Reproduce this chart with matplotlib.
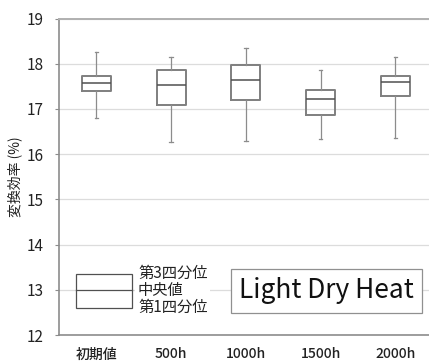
import matplotlib
matplotlib.use("Agg")
import matplotlib.pyplot as plt
from matplotlib.patches import Rectangle

plt.rcParams['font.family'] = ['Noto Sans CJK JP', 'DejaVu Sans']

# values
labels = ["初期値", "500h", "1000h", "1500h", "2000h"]
whislo = [16.81, 16.26, 16.28, 16.33, 16.36]
q1 = [17.40, 17.08, 17.20, 16.86, 17.29]
med = [17.58, 17.52, 17.63, 17.23, 17.60]
q3 = [17.73, 17.85, 17.98, 17.42, 17.73]
whishi = [18.26, 18.15, 18.35, 17.85, 18.14]

stats = []
for i in range(len(labels)):
    stats.append(dict(label=labels[i], whislo=whislo[i], q1=q1[i], med=med[i],
                      q3=q3[i], whishi=whishi[i], fliers=[]))

W, H = 373.75, 316.5  # axes size in pixels
fig = plt.figure(figsize=(4.29, 3.61), dpi=100)
ax = fig.add_axes([59 / 429, 1 - 335 / 361, W / 429, H / 361])

ax.bxp(stats, positions=range(1, 6), widths=0.39, showfliers=False,
       boxprops=dict(color="#7f7f7f", linewidth=1.4),
       medianprops=dict(color="#505050", linewidth=1.1),
       whiskerprops=dict(color="#8c8c8c", linewidth=0.9),
       capprops=dict(color="#8c8c8c", linewidth=0.9),
       capwidths=0.05)

ax.set_xlim(0.5, 5.5)
ax.set_ylim(12, 19)
ax.set_yticks(range(12, 20))
ax.yaxis.grid(True, color="#dcdcdc", linewidth=0.9)
ax.set_axisbelow(True)

for s in ["left", "bottom"]:
    ax.spines[s].set_color("#8c8c8c")
    ax.spines[s].set_linewidth(1.2)
ax.spines["top"].set_color("#b0b0b0")
ax.spines["top"].set_linewidth(1.4)
ax.spines["right"].set_visible(False)

ax.tick_params(axis="x", length=0, pad=9, labelsize=10, colors="#222222")
ax.tick_params(axis="y", length=3, width=0.8, color="#8c8c8c", pad=8,
               labelsize=11, labelcolor="#222222")
for t in ax.get_xticklabels():
    t.set_fontweight("medium")

ax.set_ylabel("変換効率 (%)", fontsize=10, labelpad=3, color="#222222")

# legend sample box
ax.add_patch(Rectangle((17 / W, 27.3 / H), 56 / W, 34 / H,
                       transform=ax.transAxes, facecolor="white",
                       edgecolor="#505050", linewidth=0.9, zorder=3))
ax.plot([17 / W, 73 / W], [45 / H, 45 / H],
        transform=ax.transAxes, color="#505050", linewidth=0.9, zorder=4)
ax.text(79 / W, 45 / H, "第3四分位\n中央値\n第1四分位",
        transform=ax.transAxes, fontsize=11, va="center", ha="left",
        linespacing=1.0, color="#222222",
        bbox=dict(facecolor="white", edgecolor="none", pad=2), zorder=3)

# title box
ax.add_patch(Rectangle((172 / W, 22 / H), 191 / W, 44 / H,
                       transform=ax.transAxes, facecolor="white",
                       edgecolor="#909090", linewidth=0.9, zorder=5))
ax.text(267.5 / W, 44 / H, "Light Dry Heat", transform=ax.transAxes,
        fontsize=19, ha="center", va="center", color="#111111", zorder=6)

fig.savefig("out.png", dpi=100)
